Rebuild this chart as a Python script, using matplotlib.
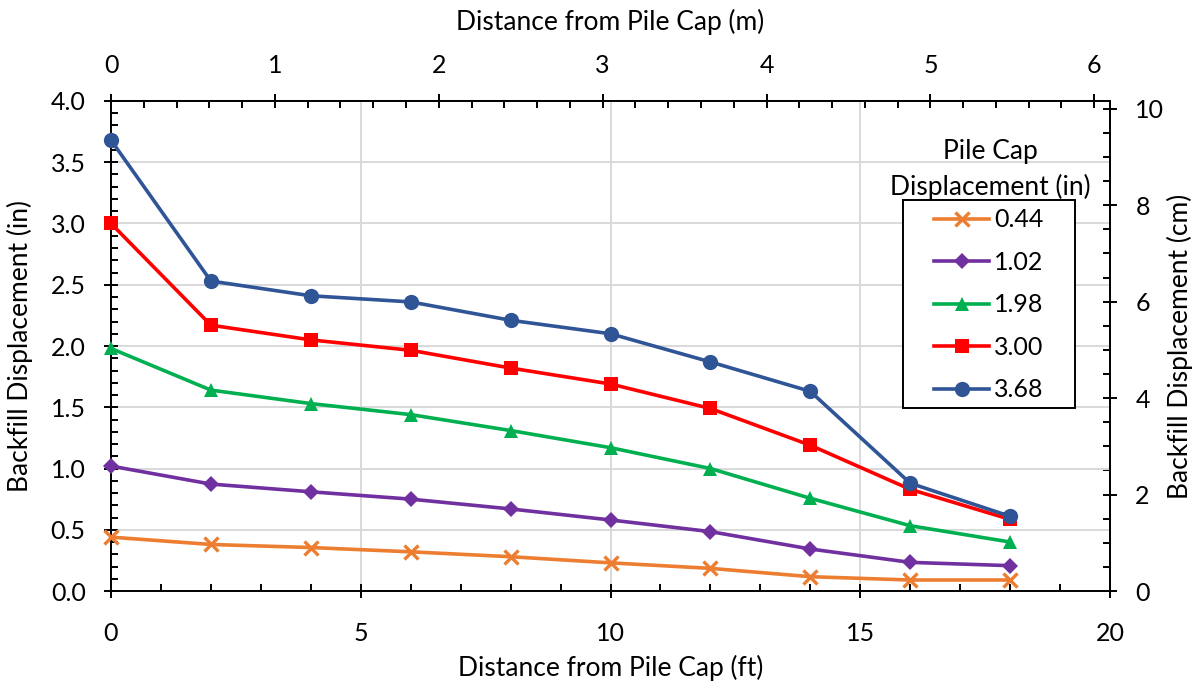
import matplotlib
matplotlib.use("Agg")
import matplotlib.pyplot as plt
import numpy as np
from matplotlib.ticker import FixedLocator, FormatStrFormatter, NullFormatter
from matplotlib.patches import Rectangle

plt.rcParams['font.family'] = ['Lato', 'DejaVu Sans']

distance_ft = [0, 2, 4, 6, 8, 10, 12, 14, 16, 18]
labels = ["0.44", "1.02", "1.98", "3.00", "3.68"]
disp_044 = [0.44, 0.38, 0.355, 0.32, 0.28, 0.23, 0.185, 0.117, 0.09, 0.09]
disp_102 = [1.02, 0.873, 0.81, 0.75, 0.67, 0.58, 0.485, 0.343, 0.234, 0.207]
disp_198 = [1.98, 1.64, 1.53, 1.44, 1.31, 1.17, 1.00, 0.757, 0.533, 0.40]
disp_300 = [3.00, 2.17, 2.05, 1.965, 1.82, 1.69, 1.49, 1.19, 0.83, 0.585]
disp_368 = [3.68, 2.53, 2.41, 2.36, 2.21, 2.10, 1.87, 1.63, 0.88, 0.61]

ft_major = [0, 5, 10, 15, 20]
in_major = [0, 0.5, 1.0, 1.5, 2.0, 2.5, 3.0, 3.5, 4.0]
m_major = [0, 1, 2, 3, 4, 5, 6]
cm_major = [0, 2, 4, 6, 8, 10]

series = [disp_044, disp_102, disp_198, disp_300, disp_368]
colors = ['#ED7D31', '#7030A0', '#00B050', '#FF0000', '#2F5597']
markers = ['x', 'D', '^', 's', 'o']
msizes = [10, 8.5, 10, 10.5, 11]

TFS = 18   # tick labels
LFS = 19   # axis labels

fig = plt.figure(figsize=(12, 6.87), dpi=100)
ax = fig.add_axes([0.0925, 0.1397, 0.8325, 0.7133])

handles = []
for y, c, m, ms, lab in zip(series, colors, markers, msizes, labels):
    kw = dict(markeredgewidth=2.4) if m == 'x' else dict(markeredgewidth=0)
    h, = ax.plot(distance_ft, y, color=c, marker=m, markersize=ms, lw=2.6,
                 label=lab, clip_on=False, zorder=3, **kw)
    handles.append(h)

ax.set_xlim(0, 20)
ax.set_ylim(0, 4.0)
ax.xaxis.set_major_locator(FixedLocator(ft_major))
ax.xaxis.set_minor_locator(FixedLocator(np.arange(0, 20.01, 1)))
ax.yaxis.set_major_locator(FixedLocator(in_major))
ax.yaxis.set_minor_locator(FixedLocator(np.arange(0, 4.001, 0.1)))
ax.yaxis.set_major_formatter(FormatStrFormatter('%.1f'))
ax.grid(True, which='major', color='#D9D9D9', lw=1.4, zorder=0)
ax.set_axisbelow(True)

for s in ax.spines.values():
    s.set_linewidth(1.4)
    s.set_color('black')

tick_kw_major = dict(which='major', direction='inout', length=10.5, width=1.4,
                     labelsize=TFS, colors='black')
tick_kw_minor = dict(which='minor', direction='in', length=5, width=1.4)
ax.tick_params(axis='x', **tick_kw_major, pad=17)
ax.tick_params(axis='y', **tick_kw_major, pad=13)
ax.tick_params(**tick_kw_minor)

ax.set_xlabel('Distance from Pile Cap (ft)', fontsize=LFS, labelpad=7)
ax.set_ylabel('Backfill Displacement (in)', fontsize=LFS, labelpad=13)

ft2m = lambda x: x * 0.3048
m2ft = lambda x: x / 0.3048
axt = ax.secondary_xaxis('top', functions=(ft2m, m2ft))
axt.xaxis.set_major_locator(FixedLocator(m_major))
axt.xaxis.set_minor_locator(FixedLocator(np.arange(0, 6.001, 0.2)))
axt.xaxis.set_minor_formatter(NullFormatter())
axt.tick_params(**tick_kw_major, pad=12)
axt.tick_params(**tick_kw_minor)
axt.spines['top'].set_linewidth(1.4)
axt.set_xlabel('Distance from Pile Cap (m)', fontsize=LFS, labelpad=17)

in2cm = lambda y: y * 2.54
cm2in = lambda y: y / 2.54
axr = ax.secondary_yaxis('right', functions=(in2cm, cm2in))
axr.yaxis.set_major_locator(FixedLocator(cm_major))
axr.yaxis.set_minor_locator(FixedLocator(np.arange(0, 10.001, 0.5)))
axr.yaxis.set_minor_formatter(NullFormatter())
axr.tick_params(**tick_kw_major, pad=13)
axr.tick_params(**tick_kw_minor)
axr.spines['right'].set_linewidth(1.4)
axr.set_ylabel('Backfill Displacement (cm)', fontsize=LFS, labelpad=2)

# legend box (Excel style: title above frame)
ax.add_patch(Rectangle((0.7928, 0.3735), 0.1722, 0.4245, transform=ax.transAxes,
                       facecolor='white', edgecolor='black', lw=1.4, zorder=4))
leg = ax.legend(handles=handles, loc='center', bbox_to_anchor=(0.879, 0.5837),
                fontsize=18, frameon=False, handlelength=2.2, handletextpad=0.2,
                labelspacing=0.78, borderpad=0, borderaxespad=0)
leg.set_zorder(5)
ax.text(0.880, 0.8965, 'Pile Cap', transform=ax.transAxes,
        ha='center', va='center', fontsize=LFS, zorder=5)
ax.text(0.880, 0.825, 'Displacement (in)', transform=ax.transAxes,
        ha='center', va='center', fontsize=LFS, zorder=5)

fig.savefig('out.png', dpi=100)
